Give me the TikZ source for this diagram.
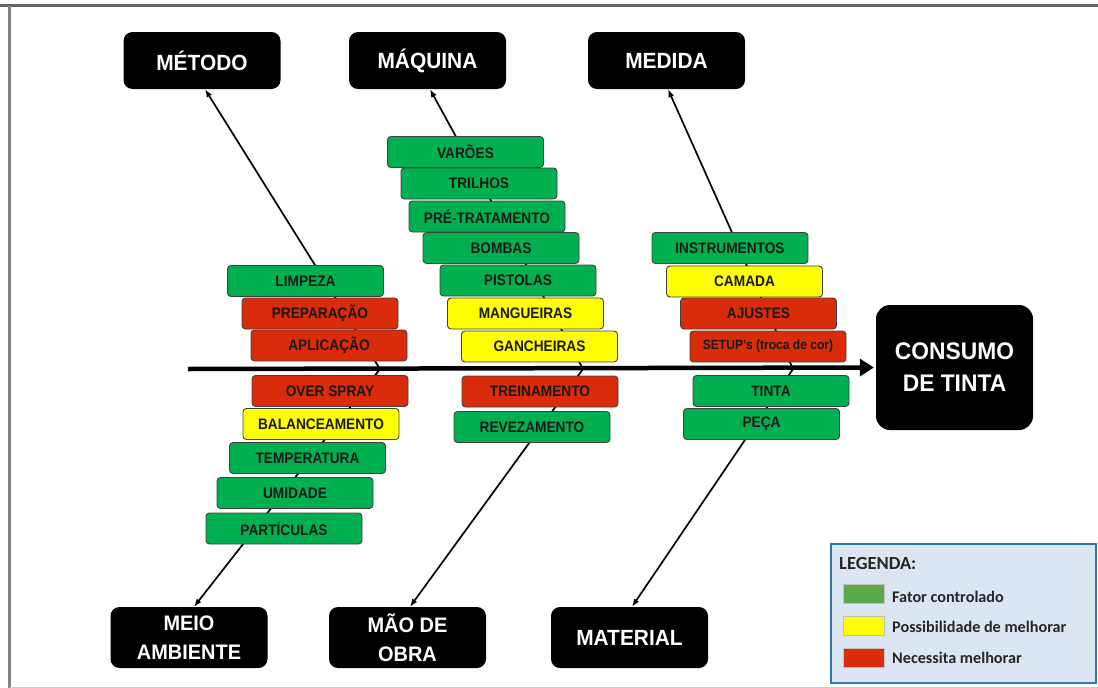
\documentclass[tikz,border=0pt]{standalone}
\usepackage{fontspec}
\setmainfont{Liberation Sans}
\newfontfamily\boxfont[FakeStretch=0.9]{Liberation Sans}
\newfontfamily\catfont[FakeStretch=0.95]{Liberation Sans}
\newfontfamily\legfont{Carlito}
\usetikzlibrary{arrows.meta}
\definecolor{okgreen}{RGB}{0,176,80}
\definecolor{warnyellow}{RGB}{255,255,0}
\definecolor{badred}{RGB}{218,44,10}
\definecolor{legfill}{RGB}{220,230,242}
\definecolor{legline}{RGB}{46,117,182}
\definecolor{swgreen}{RGB}{92,168,74}
\definecolor{framegray}{RGB}{100,100,100}
\begin{document}
\begin{tikzpicture}[x=1pt,y=-1pt,
  cat/.style={fill=black, rounded corners=9pt, text=white, align=center,
    font=\catfont\bfseries\fontsize{22}{28}\selectfont, minimum width=157pt, inner sep=0pt},
  itembox/.style={draw=black!75, line width=0.9pt, rounded corners=3.5pt,
    minimum width=156pt, minimum height=31pt, inner sep=0pt,
    font=\boxfont\bfseries\fontsize{15.2}{17}\selectfont, text=black!90},
  okbox/.style={itembox, fill=okgreen},
  yelbox/.style={itembox, fill=warnyellow},
  redbox/.style={itembox, fill=badred},
  bone/.style={line width=1.7pt, -{Latex[length=8pt,width=6pt]}},
  spine/.style={line width=4.5pt, -{Triangle[length=14pt,width=17pt]}, shorten >=2pt},
  swatch/.style={minimum width=41pt, minimum height=19pt, inner sep=0pt, draw=black!25, line width=0.4pt},
  legtext/.style={anchor=west, inner sep=0pt, font=\legfont\bfseries\fontsize{16.2}{18}\selectfont, text=black!85}
]
\useasboundingbox (0,0) rectangle (1098,688);

% page frame
\draw[framegray, line width=3.5pt] (0,5.5) -- (1098,5.5);
\draw[framegray!80, line width=3pt] (9.5,5.5) -- (9.5,688);
\draw[black!20, line width=1pt] (9.5,687) -- (1098,687);

% cause categories and effect
\node[cat, minimum height=57pt] (MET) at (202,60.5) {MÉTODO};
\node[cat, minimum height=57pt] (MAQ) at (427.5,60.5) {MÁQUINA};
\node[cat, minimum height=57pt] (MED) at (666.5,60.5) {MEDIDA};
\node[cat, minimum height=61pt, font=\catfont\bfseries\fontsize{21}{29}\selectfont] (MEI) at (189,637.5) {MEIO\\AMBIENTE};
\node[cat, minimum height=61pt, font=\catfont\bfseries\fontsize{21}{29}\selectfont] (MAO) at (407.5,637.5) {MÃO DE\\OBRA};
\node[cat, minimum height=61pt] (MAT) at (629.5,637.5) {MATERIAL};
\node[cat, minimum height=125pt, rounded corners=14pt, font=\catfont\bfseries\fontsize{24}{32}\selectfont] (CON) at (954.5,367.5) {CONSUMO\\DE TINTA};

% junctions on the spine
\coordinate (s0) at (188,369);
\coordinate (j1) at (380,369);
\coordinate (j2) at (583,369);
\coordinate (j3) at (793,369);

% bones
\draw[bone] (j1) -- ([xshift=3pt]MET.south);
\draw[bone] (j2) -- ([xshift=2.5pt]MAQ.south);
\draw[bone] (j3) -- ([xshift=1.5pt]MED.south);
\draw[bone] (j1) -- ([xshift=5pt]MEI.north);
\draw[bone] (j2) -- ([xshift=2.5pt]MAO.north);
\draw[bone] (j3) -- ([xshift=2.5pt]MAT.north);

% Método
\node[okbox]  (limp) at (305.5,281)   {LIMPEZA};
\node[redbox] (prep) at (320,313.5)   {PREPARAÇÃO};
\node[redbox] (apl)  at (329,345.5)   {APLICAÇÃO};
% Meio ambiente
\node[redbox] (over) at (330,391)     {OVER SPRAY};
\node[yelbox] (bal)  at (321,424)     {BALANCEAMENTO};
\node[okbox]  (temp) at (307.5,458)   {TEMPERATURA};
\node[okbox]  (umid) at (295,493)     {UMIDADE};
\node[okbox]  (part) at (284,528.5)   {PARTÍCULAS};
% Máquina
\node[okbox]  (var)  at (465.5,152)   {VARÕES};
\node[okbox]  (tril) at (479,183.5)   {TRILHOS};
\node[okbox]  (pre)  at (487,216.5)   {PRÉ-TRATAMENTO};
\node[okbox]  (bomb) at (501,248)     {BOMBAS};
\node[okbox]  (pist) at (518,280.5)   {PISTOLAS};
\node[yelbox] (mang) at (525.5,313.5) {MANGUEIRAS};
\node[yelbox] (ganc) at (539.5,346.5) {GANCHEIRAS};
% Mão de obra
\node[redbox] (trei) at (540,391.5)   {TREINAMENTO};
\node[okbox]  (reve) at (532,427)     {REVEZAMENTO};
% Medida
\node[okbox]  (inst) at (730,248)     {INSTRUMENTOS};
\node[yelbox] (cam)  at (744.5,281.5) {CAMADA};
\node[redbox] (ajus) at (758.5,313.5) {AJUSTES};
\node[redbox, font=\boxfont\bfseries\fontsize{13.4}{15}\selectfont] (setup) at (768,346.5) {SETUP’s (troca de cor)};
% Material
\node[okbox]  (tint) at (771,391)     {TINTA};
\node[okbox]  (peca) at (761.5,424)   {PEÇA};

% spine
\draw[spine] (s0) -- (CON.west);

% legend
\node[draw=legline, fill=legfill, line width=2pt, minimum width=265pt, minimum height=139pt, inner sep=0pt] (LEG) at (963,613) {};
\node[anchor=west, inner sep=0pt, font=\legfont\bfseries\fontsize{18.5}{20}\selectfont, text=black!85] (legt) at (839,563) {LEGENDA:};
\node[swatch, fill=swgreen]    (sw1) at (863.5,593.5) {};
\node[swatch, fill=warnyellow] (sw2) at (863.5,626)   {};
\node[swatch, fill=badred]     (sw3) at (863.5,657.5) {};
\node[legtext] (lt1) at (892,597) {Fator controlado};
\node[legtext] (lt2) at (892,627) {Possibilidade de melhorar};
\node[legtext] (lt3) at (892,658) {Necessita melhorar};
\end{tikzpicture}
\end{document}
